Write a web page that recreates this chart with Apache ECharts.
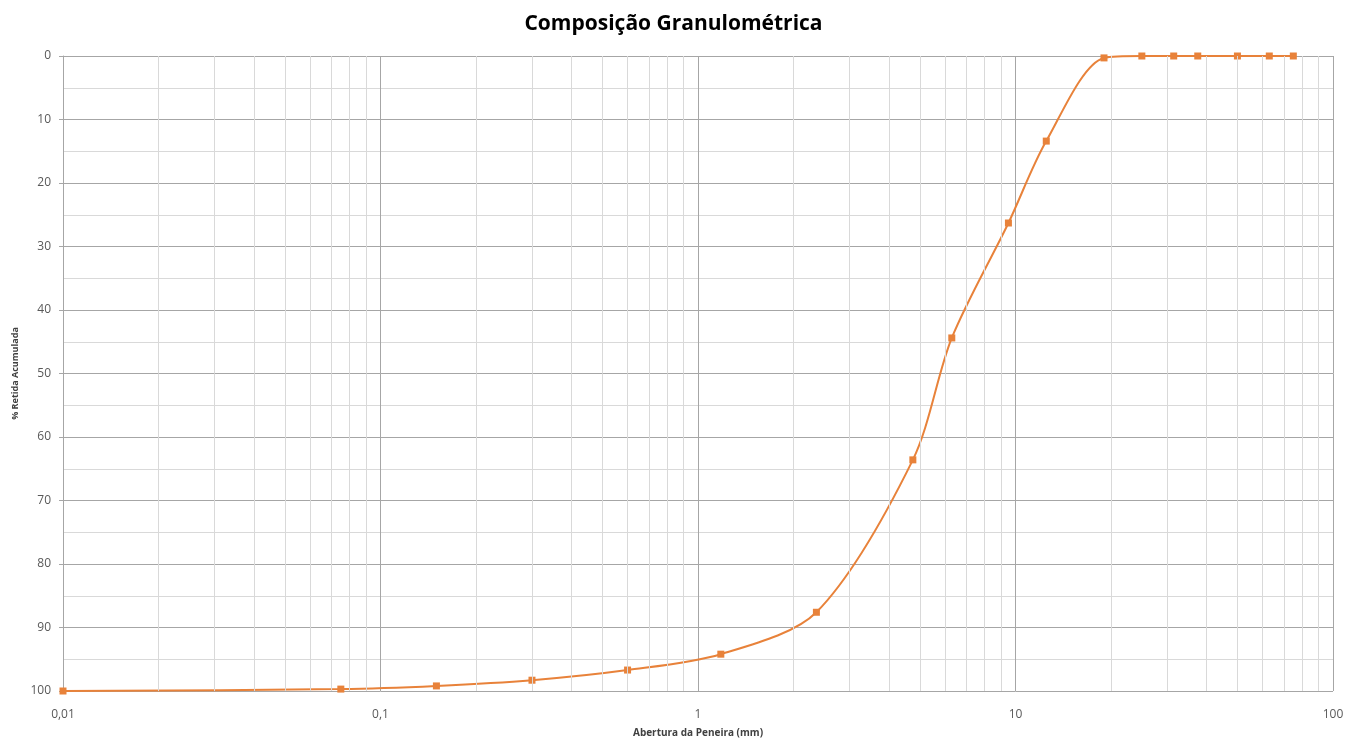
<!DOCTYPE html>
<html><head><meta charset="utf-8">
<script src="https://cdn.jsdelivr.net/npm/echarts@6/dist/echarts.min.js"></script>
<style>html,body{margin:0;padding:0;background:#fff}#c{width:1347px;height:740px}</style>
</head><body><div id="c"></div>
<script>
const sieveOpenings = [0.01, 0.075, 0.15, 0.3, 0.6, 1.18, 2.36, 4.75, 6.3, 9.5, 12.5, 19, 25, 31.5, 37.5, 50, 63, 75];
const retainedPct   = [100, 99.7, 99.2, 98.3, 96.7, 94.2, 87.6, 63.6, 44.4, 26.3, 13.4, 0.3, 0, 0, 0, 0, 0, 0];
const decades = [0.01, 0.1, 1, 10];
const minorMultipliers = [2, 3, 4, 5, 6, 7, 8, 9];
const xTickLabels = {0.01: '0,01', 0.1: '0,1', 1: '1', 10: '10', 100: '100'};

const minorGridValues = [];
decades.forEach(d => minorMultipliers.forEach(m => minorGridValues.push(+(d * m).toPrecision(3))));

const font = 'Open Sans';
const chart = echarts.init(document.getElementById('c'));
chart.setOption({
  animation: false,
  title: {
    text: 'Composição Granulométrica', left: 'center', top: 9,
    textStyle: {fontFamily: font, fontSize: 21, fontWeight: 'bold', color: '#000'}
  },
  grid: {left: 63, right: 14, top: 56, bottom: 49, containLabel: false, outerBoundsMode: 'none'},
  xAxis: {
    type: 'log', logBase: 10, min: 0.01, max: 100,
    name: 'Abertura da Peneira (mm)', nameLocation: 'middle', nameGap: 37,
    nameTextStyle: {fontFamily: font, fontSize: 10, fontWeight: 'bold', color: '#404040'},
    axisLine: {show: true, lineStyle: {color: '#A6A6A6'}},
    axisTick: {show: true, length: 4, lineStyle: {color: '#A6A6A6'}},
    axisLabel: {fontFamily: font, fontSize: 12, color: '#595959', margin: 18,
      formatter: v => xTickLabels[+v.toPrecision(3)] ?? ''},
    splitLine: {show: true, lineStyle: {color: '#A6A6A6', width: 1}}
  },
  yAxis: {
    type: 'value', inverse: true, min: 0, max: 100, interval: 10,
    name: '% Retida Acumulada', nameLocation: 'middle', nameGap: 41, nameRotate: 90,
    nameTextStyle: {fontFamily: font, fontSize: 9, fontWeight: 'bold', color: '#404040'},
    axisLine: {show: true, lineStyle: {color: '#A6A6A6'}},
    axisTick: {show: true, length: 4, lineStyle: {color: '#A6A6A6'}},
    axisLabel: {fontFamily: font, fontSize: 12, color: '#595959', margin: 12},
    splitLine: {show: true, lineStyle: {color: '#A6A6A6', width: 1}},
    minorTick: {show: false, splitNumber: 2},
    minorSplitLine: {show: true, lineStyle: {color: '#D9D9D9', width: 1}}
  },
  series: [
    {
      type: 'line', data: [], silent: true, z: 1,
      markLine: {
        silent: true, symbol: 'none', label: {show: false}, animation: false,
        lineStyle: {color: '#D9D9D9', type: 'solid', width: 1},
        data: minorGridValues.map(v => ({xAxis: v}))
      }
    },
    {
      type: 'line', z: 3,
      data: sieveOpenings.map((x, i) => [x, retainedPct[i]]),
      smooth: 0.3,
      symbol: 'rect', symbolSize: 7,
      itemStyle: {color: '#E8823A'},
      lineStyle: {color: '#E8823A', width: 2}
    }
  ]
});
</script></body></html>
